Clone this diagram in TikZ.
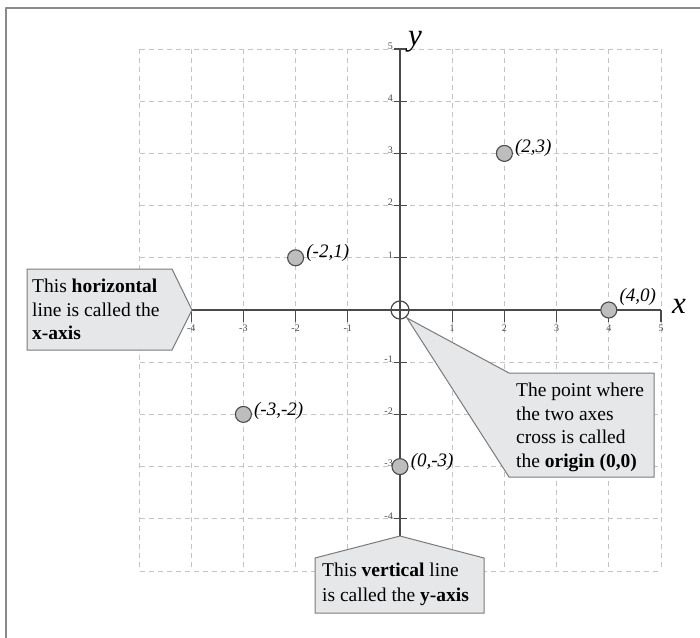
\documentclass[tikz,border=0pt]{standalone}
\usepackage{fontspec}
\setmainfont{Liberation Serif}
\definecolor{gridgrey}{HTML}{C4C4C4}
\definecolor{axisgrey}{HTML}{4A4A4A}
\definecolor{dotgrey}{HTML}{BDBDBD}
\definecolor{notefill}{HTML}{E6E7E8}
\definecolor{noteline}{HTML}{7A7A7A}
\definecolor{framegrey}{HTML}{8A8A8A}

\begin{document}
\begin{tikzpicture}[x=1pt, y=-1pt, line join=round,
  gridline/.style={draw=gridgrey, line width=0.9pt, dash pattern=on 4.5pt off 4.5pt},
  axisline/.style={draw=axisgrey, line width=1.6pt},
  tickline/.style={draw=axisgrey, line width=1.3pt},
  ticklabel/.style={font=\fontsize{10}{11}\selectfont, text=axisgrey, inner sep=0pt},
  dot/.style={circle, draw=axisgrey, fill=dotgrey, line width=1.1pt, minimum size=16pt, inner sep=0pt},
  dotlabel/.style={font=\fontsize{19}{22}\selectfont\itshape, inner sep=0pt, anchor=west},
  axislabel/.style={font=\fontsize{31}{36}\selectfont\itshape, inner sep=0pt},
  notebox/.style={fill=notefill, draw=noteline, line width=1pt, line join=miter},
  notetext/.style={font=\fontsize{19.5}{23.5}\selectfont, align=left, anchor=north west, inner sep=0pt},
]

  %% ==== frame (runs off the right and bottom edges) ====
  \draw[framegrey, line width=1.8pt] (6,8) rectangle (730,680);

  %% ==== dashed grid, unit = 52.2 ====
  \foreach \i in {-5,...,5} {
    \draw[gridline] ({400+52.2*\i},49) -- ({400+52.2*\i},571);
    \draw[gridline] (140,{310+52.2*\i}) -- (660,{310+52.2*\i});
  }

  %% ==== axes ====
  \coordinate (xstart) at (192,310);
  \coordinate (xend)   at (661,310);
  \coordinate (ytop)   at (400,49);
  \coordinate (ybot)   at (400,536);
  \draw[axisline] (xstart) -- (xend);
  \draw[axisline] (ytop) -- (ybot);

  %% ticks on x
  \foreach \i in {-4,-3,-2,-1,1,2,3,4,5} {
    \draw[tickline] ({400+52.2*\i},310) -- ({400+52.2*\i},322);
    \node[ticklabel, anchor=north] (xt\i) at ({400+52.2*\i},325) {\i};
  }
  %% ticks on y
  \foreach \i in {-4,-3,-2,-1,1,2,3,4,5} {
    \draw[tickline] (394,{310-52.2*\i}) -- (407,{310-52.2*\i});
    \node[ticklabel, anchor=east] (yt\i) at (393,{307-52.2*\i}) {\i};
  }

  \node[axislabel] (xlab) at (679,306) {x};
  \node[axislabel, anchor=west] (ylab) at (408,42) {y};

  %% ==== origin ====
  \node[circle, draw=axisgrey, line width=1.2pt, minimum size=18pt, inner sep=0pt] (origin) at (400,310) {};

  %% ==== points ====
  \node[dot] (p23)  at (504.4,153.4) {};
  \node[dot] (pm21) at (295.6,257.8) {};
  \node[dot] (p40)  at (608.8,310)   {};
  \node[dot] (pm3m2) at (243.4,414.4) {};
  \node[dot] (p0m3) at (400,466.6)   {};

  \node[dotlabel] at ([xshift=2pt,yshift=5pt]p23.east)   {(2,3)};
  \node[dotlabel] at ([xshift=2pt,yshift=5pt]pm21.east)  {(-2,1)};
  \node[dotlabel] at ([xshift=2pt,yshift=13pt]p40.east)  {(4,0)};
  \node[dotlabel] at ([xshift=2pt,yshift=3pt]pm3m2.east) {(-3,-2)};
  \node[dotlabel] at ([xshift=2pt,yshift=5pt]p0m3.east)  {(0,-3)};

  %% ==== callouts ====
  %% horizontal
  \coordinate (htip) at (192,310);
  \draw[notebox] (27,269) -- (172,269) -- (htip) -- (172,350) -- (27,350) -- cycle;
  \node[notetext] (hnote) at (32,279) {This \textbf{horizontal}\\line is called the\\\textbf{x-axis}};

  %% vertical
  \coordinate (vtip) at (400,536);
  \draw[notebox] (315,558) -- (vtip) -- (484,558) -- (484,613) -- (315,613) -- cycle;
  \node[notetext, font=\fontsize{19.5}{25}\selectfont] (vnote) at (322,563) {This \textbf{vertical} line\\is called the \textbf{y-axis}};

  %% origin
  \coordinate (otip) at (407,318);
  \draw[notebox] (otip) -- (509,373) -- (654,373) -- (654,477) -- (509,477) -- cycle;
  \node[notetext] (onote) at (516,383) {The point where\\the two axes\\cross is called\\the \textbf{origin (0,0)}};

  \pgfresetboundingbox
  \path[use as bounding box] (0,0) rectangle (700,637);
\end{tikzpicture}
\end{document}
